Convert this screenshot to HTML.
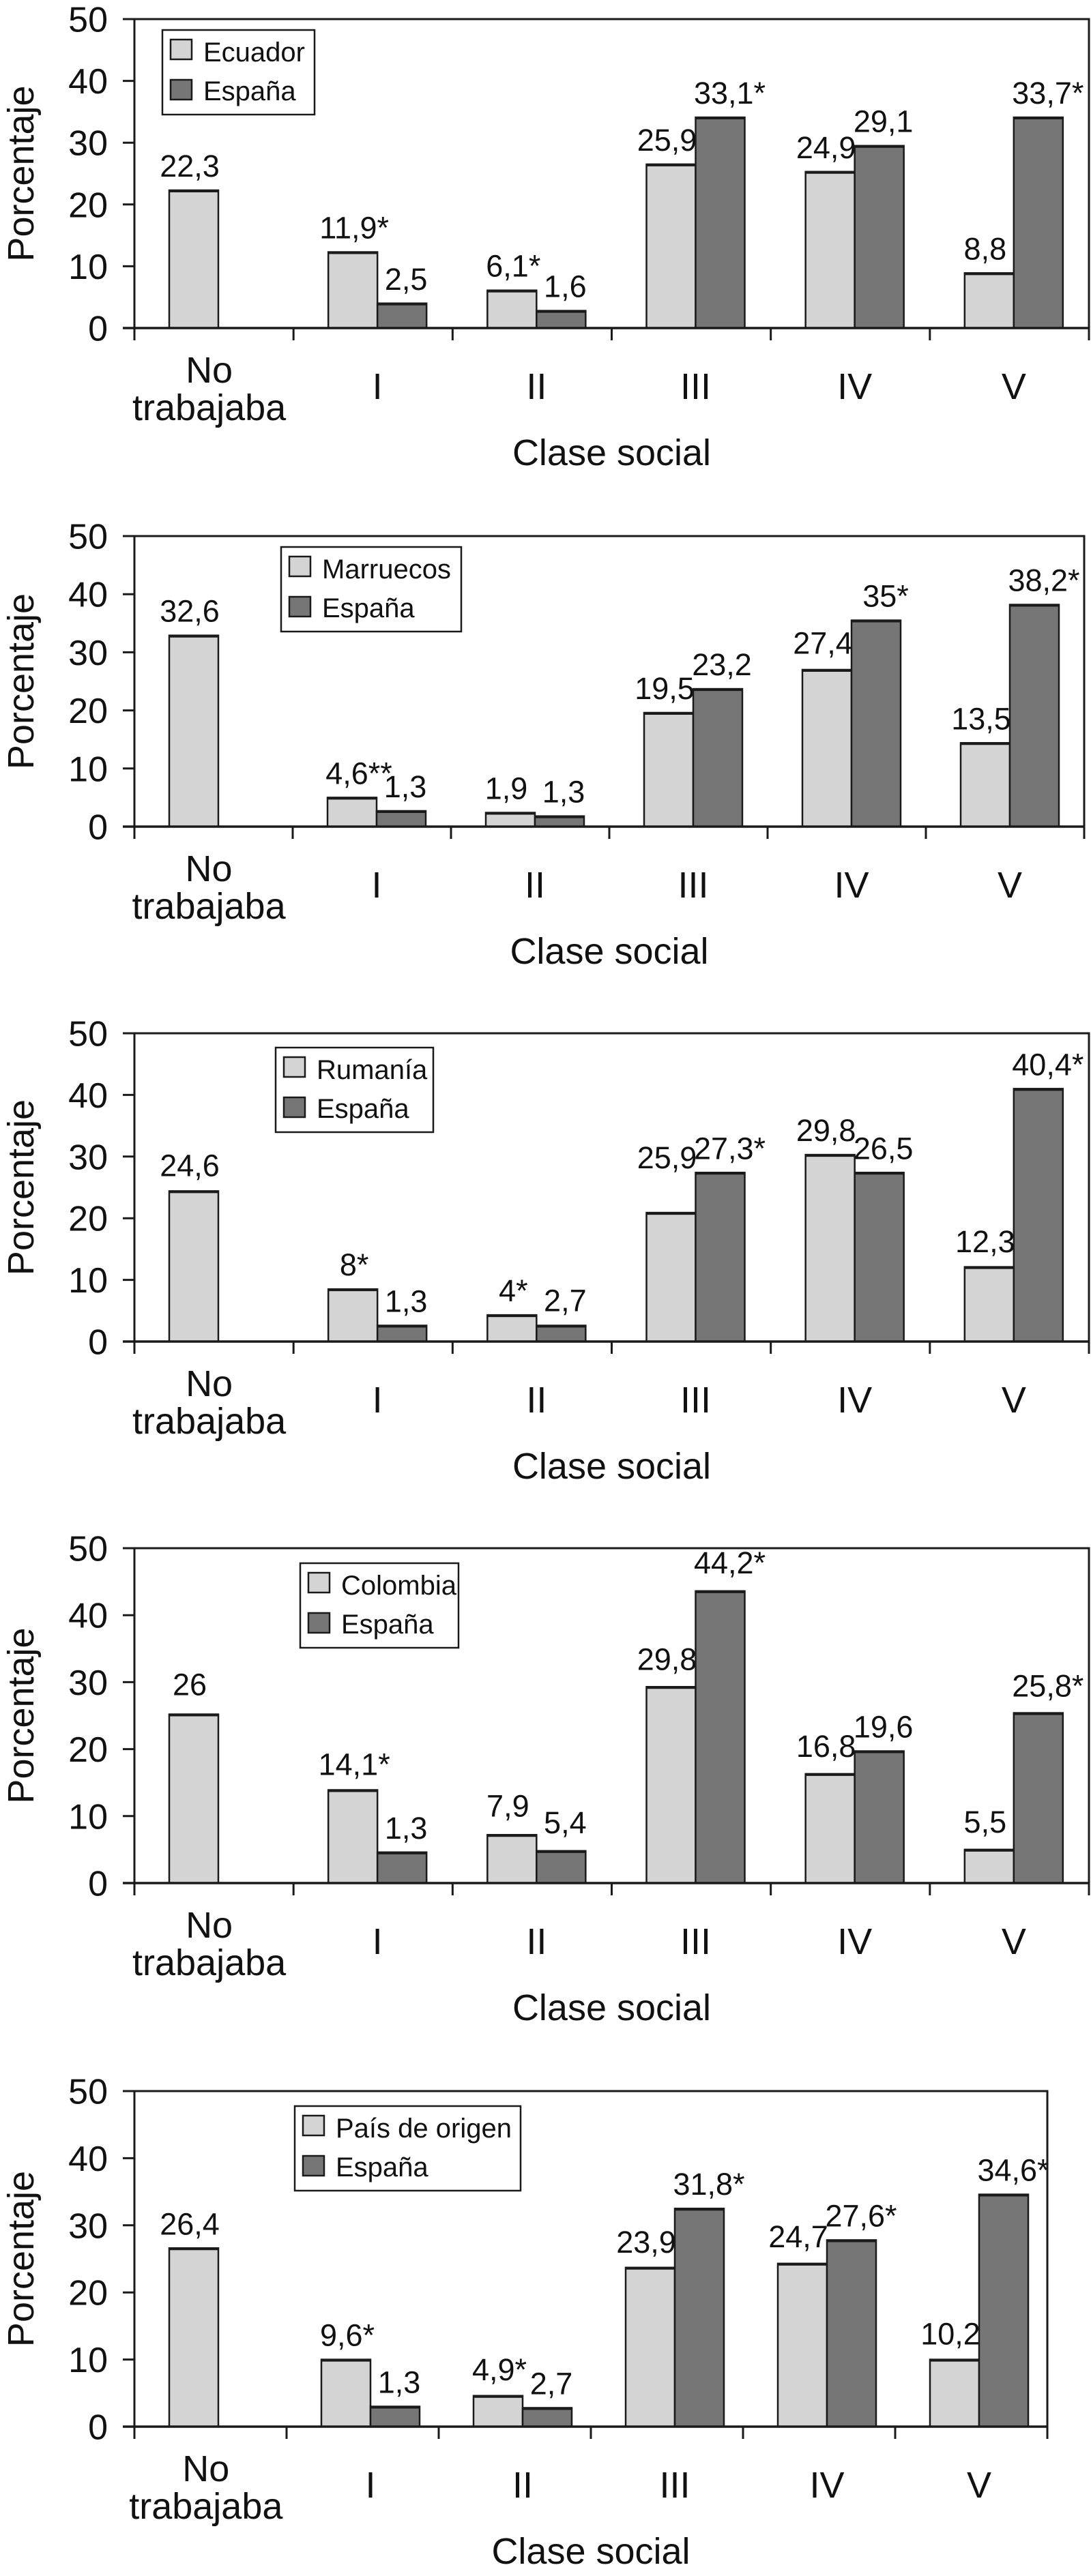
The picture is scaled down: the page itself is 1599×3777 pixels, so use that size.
<!DOCTYPE html>
<html><head><meta charset="utf-8"><style>
html,body{margin:0;padding:0;background:#fff;}
svg{display:block;}
text{font-family:"Liberation Sans",Arial,sans-serif;fill:#111;}
</style></head>
<body>
<svg id="fig" width="1599" height="3777" viewBox="0 0 1599 3777" xmlns="http://www.w3.org/2000/svg"></svg>
<script>
const categories = ["No trabajaba", "I", "II", "III", "IV", "V"];
const yTicks = [0, 10, 20, 30, 40, 50];
const yTickLabels = ["0", "10", "20", "30", "40", "50"];

const ecuadorValues = [22.3, 12.3, 6.1, 26.5, 25.3, 8.9];
const ecuadorSpainValues = [null, 4.0, 2.8, 34.1, 29.5, 34.1];
const ecuadorLabels = ["22,3", "11,9*", "6,1*", "25,9", "24,9", "8,8"];
const ecuadorSpainLabels = [null, "2,5", "1,6", "33,1*", "29,1", "33,7*"];

const marruecosValues = [32.9, 5.0, 2.4, 19.6, 27.0, 14.4];
const marruecosSpainValues = [null, 2.7, 1.8, 23.7, 35.5, 38.2];
const marruecosLabels = ["32,6", "4,6**", "1,9", "19,5", "27,4", "13,5"];
const marruecosSpainLabels = [null, "1,3", "1,3", "23,2", "35*", "38,2*"];

const rumaniaValues = [24.4, 8.5, 4.3, 20.9, 30.3, 12.1];
const rumaniaSpainValues = [null, 2.6, 2.6, 27.4, 27.4, 41.0];
const rumaniaLabels = ["24,6", "8*", "4*", "25,9", "29,8", "12,3"];
const rumaniaSpainLabels = [null, "1,3", "2,7", "27,3*", "26,5", "40,4*"];

const colombiaValues = [25.2, 13.9, 7.2, 29.3, 16.3, 5.0];
const colombiaSpainValues = [null, 4.6, 4.8, 43.6, 19.7, 25.4];
const colombiaLabels = ["26", "14,1*", "7,9", "29,8", "16,8", "5,5"];
const colombiaSpainLabels = [null, "1,3", "5,4", "44,2*", "19,6", "25,8*"];

const origenValues = [26.6, 10.0, 4.6, 23.7, 24.3, 10.0];
const origenSpainValues = [null, 3.0, 2.8, 32.5, 27.8, 34.6];
const origenLabels = ["26,4", "9,6*", "4,9*", "23,9", "24,7", "10,2"];
const origenSpainLabels = [null, "1,3", "2,7", "31,8*", "27,6*", "34,6*"];

const NS = "http://www.w3.org/2000/svg";
const svg = document.getElementById("fig");

function mk(parent, tag, attrs) {
  const e = document.createElementNS(NS, tag);
  for (const k in attrs) e.setAttribute(k, attrs[k]);
  parent.appendChild(e);
  return e;
}
function txt(parent, x, y, s, size, anchor, name) {
  const t = mk(parent, "text", {x: x, y: y, "font-size": size, "text-anchor": anchor});
  t.textContent = s;
  
  
  return t;
}
function stars(s) { return (s.match(/\*/g) || []).length; }

function drawChart(cfg) {
  const g = mk(svg, "g", {});
  
  
  const L = 197, R = cfg.right, y0 = cfg.y0, y50 = cfg.y50;
  const catW = (R - L) / categories.length;
  const ys = v => y0 - v * (y0 - y50) / 50;
  const bw = 72, off = 51;

  // legend
  const lg = mk(g, "g", {});
  
  
  const lb = mk(lg, "rect", {x: cfg.lx, y: cfg.ly, width: cfg.lw, height: 124, fill: "#fff", stroke: "#1a1a1a", "stroke-width": 2.5});
  
  
  const s1 = mk(lg, "rect", {x: cfg.lx + 12, y: cfg.ly + 14, width: 31, height: 29, fill: "#d4d4d4", stroke: "#1a1a1a", "stroke-width": 2.5});
  
  
  const s2 = mk(lg, "rect", {x: cfg.lx + 12, y: cfg.ly + 73, width: 31, height: 29, fill: "#767676", stroke: "#1a1a1a", "stroke-width": 2.5});
  
  
  txt(lg, cfg.lx + 60, cfg.ly + 46, cfg.name, 40, "start", "legend-entry-origin");
  txt(lg, cfg.lx + 60, cfg.ly + 103, "España", 40, "start", "legend-entry-spain");

  // bars
  for (let i = 0; i < categories.length; i++) {
    const cs = L + i * catW;
    const pairs = [[cfg.light[i], cfg.lightLab[i], "#d4d4d4", cs + off, -6, "origin"],
                   [cfg.dark[i], cfg.darkLab[i], "#767676", cs + off + bw, 6, "spain"]];
    for (const p of pairs) {
      if (p[0] === null) continue;
      const top = ys(p[0]);
      const b = mk(g, "rect", {x: p[3], y: top, width: bw, height: y0 - top, fill: p[2], stroke: "#1a1a1a", "stroke-width": 2.5});
      
      
      mk(g, "line", {x1: p[3], x2: p[3] + bw, y1: top + 1, y2: top + 1, stroke: "#1a1a1a", "stroke-width": 4});
      const lv = parseFloat(p[1].replace(",", ".").replace(/\*/g, ""));
      const ly = ys(Math.max(lv, p[0])) - 20;
      txt(g, p[3] + bw / 2 + p[4] + stars(p[1]) * 8, ly, p[1], 45, "middle", "value-label-" + p[5] + "-" + i);
    }
    // category label
    if (i === 0) {
      const cx = cs + catW * 0.47;
      txt(g, cx, y0 + 80, "No", 54, "middle", "x-tick-label-no");
      txt(g, cx, y0 + 135, "trabajaba", 54, "middle", "x-tick-label-trabajaba");
    } else {
      txt(g, cs + off + bw, y0 + 104, categories[i], 54, "middle", "x-tick-label-" + categories[i]);
    }
  }
  // x ticks
  for (let i = 0; i <= categories.length; i++) {
    const x = L + i * catW;
    mk(g, "line", {x1: x, x2: x, y1: y0, y2: y0 + 18, stroke: "#1a1a1a", "stroke-width": 3});
  }
  // frame
  const fr = mk(g, "path", {d: `M${L},${y0} L${L},${y50} L${R},${y50} L${R},${y0}`, fill: "none", stroke: "#1a1a1a", "stroke-width": 3});
  
  
  const xa = mk(g, "line", {x1: 180, x2: R, y1: y0, y2: y0, stroke: "#1a1a1a", "stroke-width": 3.5});
  
  
  // y ticks
  for (let k = 0; k < yTicks.length; k++) {
    const y = ys(yTicks[k]);
    mk(g, "line", {x1: 180, x2: L, y1: y, y2: y, stroke: "#1a1a1a", "stroke-width": 3});
    txt(g, 158, y + 18.5, yTickLabels[k], 52, "end", "y-tick-label-" + yTickLabels[k]);
  }
  // axis titles
  const yt = txt(g, 0, 0, "Porcentaje", 54, "middle", "y-axis-title");
  yt.setAttribute("transform", `translate(49,${(y0 + y50) / 2}) rotate(-90)`);
  txt(g, (L + R) / 2, y0 + 201, "Clase social", 54, "middle", "x-axis-title");
}

drawChart({id: "chart-ecuador", name: "Ecuador", y50: 28, y0: 481, right: 1596, lx: 238, ly: 44, lw: 223,
  light: ecuadorValues, dark: ecuadorSpainValues, lightLab: ecuadorLabels, darkLab: ecuadorSpainLabels});
drawChart({id: "chart-marruecos", name: "Marruecos", y50: 786, y0: 1212, right: 1589, lx: 412, ly: 802, lw: 264,
  light: marruecosValues, dark: marruecosSpainValues, lightLab: marruecosLabels, darkLab: marruecosSpainLabels});
drawChart({id: "chart-rumania", name: "Rumanía", y50: 1515, y0: 1967, right: 1596, lx: 404, ly: 1536, lw: 231,
  light: rumaniaValues, dark: rumaniaSpainValues, lightLab: rumaniaLabels, darkLab: rumaniaSpainLabels});
drawChart({id: "chart-colombia", name: "Colombia", y50: 2270, y0: 2761, right: 1596, lx: 440, ly: 2292, lw: 232,
  light: colombiaValues, dark: colombiaSpainValues, lightLab: colombiaLabels, darkLab: colombiaSpainLabels});
drawChart({id: "chart-pais-origen", name: "País de origen", y50: 3066, y0: 3558, right: 1535, lx: 432, ly: 3088, lw: 331,
  light: origenValues, dark: origenSpainValues, lightLab: origenLabels, darkLab: origenSpainLabels});
</script>
</body></html>
